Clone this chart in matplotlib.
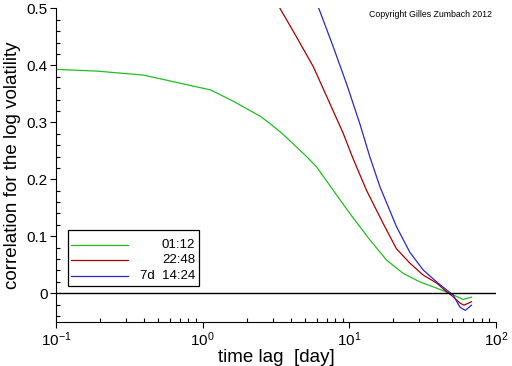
import numpy as np
import matplotlib.pyplot as plt
from matplotlib.patches import Rectangle
from matplotlib.ticker import FixedLocator, NullFormatter

plt.rcParams['font.family'] = ['Liberation Sans', 'DejaVu Sans']
plt.rcParams['mathtext.fontset'] = 'custom'
plt.rcParams['mathtext.rm'] = 'Liberation Sans'
plt.rcParams['mathtext.it'] = 'Liberation Sans'

# values
lag_green = [0.1, 0.189, 0.394, 0.568, 1.13, 1.62, 2.46, 2.88, 3.54, 5.12, 5.98,
             7.38, 10.1, 13.8, 18.0, 23.3, 30.3, 39.4, 48.5, 59.8, 68.2]
corr_green = [0.393, 0.390, 0.383, 0.374, 0.357, 0.337, 0.311, 0.298, 0.279, 0.240,
              0.222, 0.189, 0.140, 0.094, 0.058, 0.035, 0.020, 0.009, 0.0, -0.011,
              -0.007]

lag_red = [3.0, 3.37, 4.37, 5.68, 7.38, 9.09, 10.6, 13.1, 17.0, 21.0, 25.9, 31.9,
           39.4, 46.0, 51.1, 56.8, 60.5, 68.2]
corr_red = [0.53, 0.50, 0.450, 0.398, 0.333, 0.281, 0.237, 0.181, 0.123, 0.078,
            0.053, 0.032, 0.018, 0.003, -0.006, -0.017, -0.021, -0.015]

lag_blue = [5.8, 6.14, 7.77, 9.58, 11.8, 13.8, 16.2, 21.0, 25.9, 31.9, 39.4, 46.0,
            51.1, 56.8, 59.8, 62.0, 68.2]
corr_blue = [0.52, 0.503, 0.433, 0.368, 0.298, 0.240, 0.187, 0.117, 0.072, 0.041,
             0.020, 0.006, -0.003, -0.024, -0.028, -0.030, -0.021]

series_labels = ['01:12', '22:48', '7d  14:24']
series_colors = ['#1fbf1f', '#a80000', '#2828c8']

fig = plt.figure(figsize=(5.12, 3.66), dpi=100)
ax = fig.add_axes([0.1094, 0.121, 0.859, 0.856])

for x, y, c in zip([lag_green, lag_red, lag_blue], [corr_green, corr_red, corr_blue], series_colors):
    ax.plot(x, y, color=c, lw=0.9)

ax.axhline(0, color='black', lw=1.0)

ax.set_xscale('log')
ax.set_xlim(0.1, 100)
ax.set_ylim(-0.05, 0.5)

ax.set_xticks([0.1, 1, 10, 100])
ax.set_xticklabels(['$10^{-1}$', '$10^{0}$', '$10^{1}$', '$10^{2}$'])
ax.xaxis.set_minor_formatter(NullFormatter())
ax.set_yticks([0, 0.1, 0.2, 0.3, 0.4, 0.5])
ax.set_yticklabels(['0', '0.1', '0.2', '0.3', '0.4', '0.5'])
ax.yaxis.set_minor_locator(FixedLocator(np.arange(-0.04, 0.5, 0.02)))

ax.tick_params(which='major', direction='out', length=4, width=0.8, labelsize=11, pad=2)
ax.tick_params(which='minor', direction='in', length=3, width=0.8)
ax.spines['top'].set_visible(False)
ax.spines['right'].set_visible(False)

ax.set_xlabel('time lag  [day]', fontsize=13.5, labelpad=0)
ax.set_ylabel('correlation for the log volatility', fontsize=13.5, labelpad=4)

ax.text(0.991, 0.979, 'Copyright Gilles Zumbach 2012', transform=ax.transAxes,
        fontsize=6.3, ha='right', va='center')

# legend box drawn by hand, labels right-aligned
ax.add_patch(Rectangle((0.0266, 0.115), 0.298, 0.178, transform=ax.transAxes,
                       facecolor='white', edgecolor='black', lw=0.9, zorder=5))
for i, (lab, c) in enumerate(zip(series_labels, series_colors)):
    yy = 0.245 - i * 0.0495
    ax.plot([0.034, 0.163], [yy, yy], color=c, lw=0.9, transform=ax.transAxes, zorder=6)
    ax.text(0.316, yy, lab, transform=ax.transAxes, fontsize=9.5, ha='right',
            va='center', zorder=6)

fig.savefig('out.png', dpi=100)
